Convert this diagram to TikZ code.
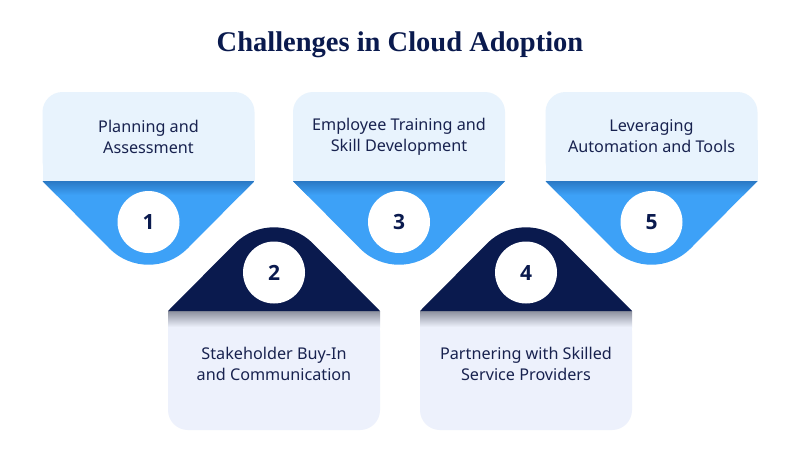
\documentclass[tikz,border=0pt]{standalone}
\usepackage{fontspec}
\setmainfont{Noto Sans}
\newfontfamily\numfont{Open Sans}
\newfontfamily\titlefont{Liberation Serif}
\definecolor{topbox}{HTML}{E8F3FD}
\definecolor{bluec}{HTML}{3DA1F7}
\definecolor{blueshade}{HTML}{2A78C4}
\definecolor{navyc}{HTML}{0A1A4E}
\definecolor{lavc}{HTML}{EDF1FC}
\definecolor{shadowc}{HTML}{8C909E}
\definecolor{txtc}{HTML}{18224F}
\tikzset{
  cardtxt/.style={font=\fontsize{16.2}{21}\selectfont, text=txtc, align=center, inner sep=0pt},
  numcirc/.style={circle, fill=white, minimum size=62pt, inner sep=0pt,
    font=\numfont\bfseries\fontsize{21}{21}\selectfont, text=navyc},
  titletxt/.style={font=\titlefont\bfseries\fontsize{28.5}{32}\selectfont, text=navyc}
}
\newcommand\topcard[4]{% #1 cx, #2 number, #3 text, #4 name
  \fill[topbox, rounded corners=20pt] (#1-106,92) rectangle (#1+106,181);
  \fill[topbox] (#1-106,140) rectangle (#1+106,181);
  \begin{scope}
    \clip (#1-106,181) -- (#1-38.89,248.61) arc[start angle=135,end angle=45,radius=55] -- (#1+106,181) -- cycle;
    \fill[bluec] (#1-106,181) rectangle (#1+106,290);
    \shade[top color=blueshade, bottom color=bluec] (#1-106,181) rectangle (#1+106,195);
  \end{scope}
  \node[numcirc] (c#4) at (#1,222) {#2};
  \node[cardtxt] (t#4) at (#1,136.5) {#3};
}
\newcommand\bottomcard[4]{%
  \fill[lavc, rounded corners=20pt] (#1-106,311) rectangle (#1+106,430);
  \fill[lavc] (#1-106,311) rectangle (#1+106,360);
  \shade[top color=shadowc, bottom color=lavc] (#1-106,311) rectangle (#1+106,327);
  \fill[navyc] (#1-106,311) -- (#1-38.89,243.39) arc[start angle=225,end angle=315,radius=55] -- (#1+106,311) -- cycle;
  \node[numcirc] (c#4) at (#1,272.5) {#2};
  \node[cardtxt] (t#4) at (#1,364) {#3};
}
\begin{document}
\begin{tikzpicture}[x=1pt,y=-1pt]
\useasboundingbox (0,0) rectangle (800,475);
\fill[white] (0,0) rectangle (800,475);
\node[titletxt] (title) at (400,45) {Challenges in Cloud Adoption};
\topcard{148.5}{1}{Planning and\\Assessment}{1}
\bottomcard{274}{2}{Stakeholder Buy-In\\and Communication}{2}
\topcard{399}{3}{Employee Training and\\Skill Development}{3}
\bottomcard{526}{4}{Partnering with Skilled\\Service Providers}{4}
\topcard{651.5}{5}{Leveraging\\Automation and Tools}{5}
\end{tikzpicture}
\end{document}
